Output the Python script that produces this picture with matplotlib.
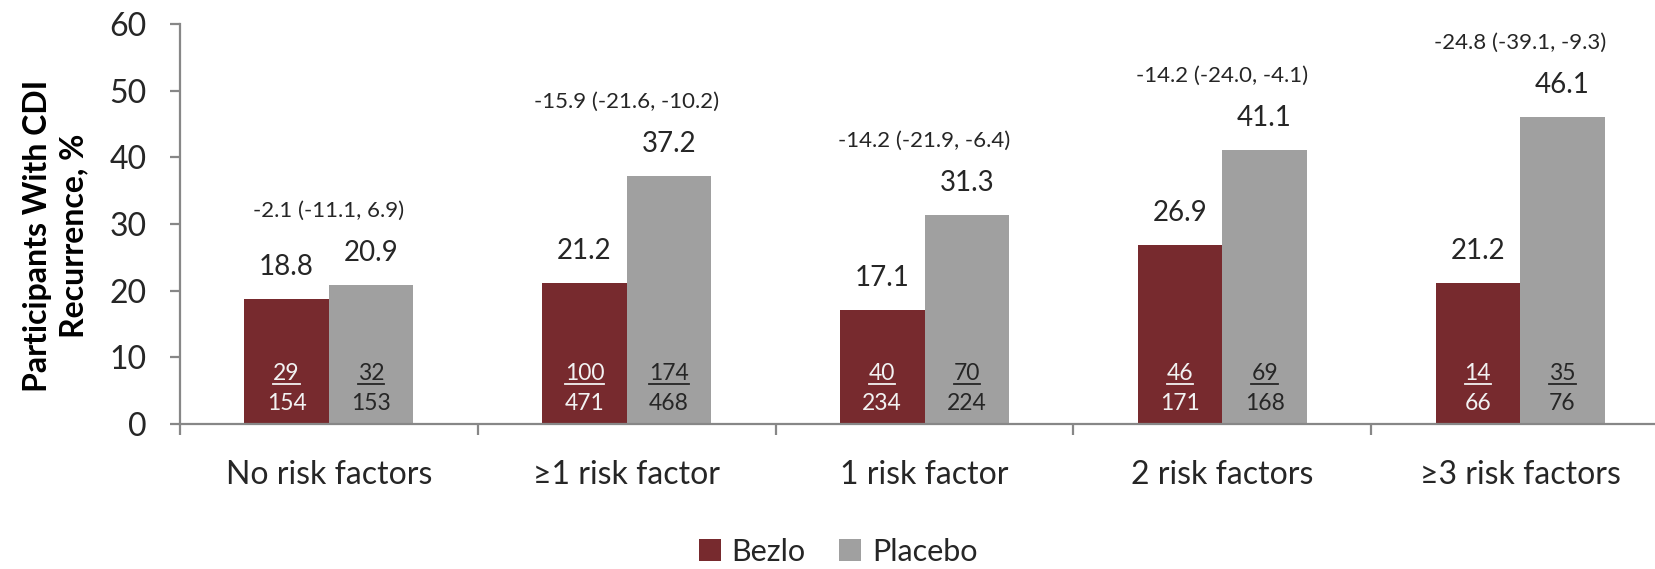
import matplotlib
matplotlib.use("Agg")
import matplotlib.pyplot as plt
import numpy as np
from matplotlib.lines import Line2D

categories = ["No risk factors", "\u22651 risk factor", "1 risk factor", "2 risk factors", "\u22653 risk factors"]
bezlo = [18.8, 21.2, 17.1, 26.9, 21.2]
placebo = [20.9, 37.2, 31.3, 41.1, 46.1]
bezlo_n = ["29", "100", "40", "46", "14"]
bezlo_N = ["154", "471", "234", "171", "66"]
placebo_n = ["32", "174", "70", "69", "35"]
placebo_N = ["153", "468", "224", "168", "76"]
diffs = ["-2.1 (-11.1, 6.9)", "-15.9 (-21.6, -10.2)", "-14.2 (-21.9, -6.4)",
         "-14.2 (-24.0, -4.1)", "-24.8 (-39.1, -9.3)"]
yticks = [0, 10, 20, 30, 40, 50, 60]

plt.rcParams['font.family'] = ['Lato', 'DejaVu Sans']
TXT = '#262626'
C_BEZ = '#772A2E'
C_PLA = '#A0A0A0'
AX = '#878787'

fig = plt.figure(figsize=(16.55, 5.69), dpi=100)
ax = fig.add_axes([180/1655, 1-424/569, 1489/1655, 400/569])

x = np.arange(len(categories))
w = 0.284
b1 = ax.bar(x - w/2, bezlo, w, color=C_BEZ, label='Bezlo')
b2 = ax.bar(x + w/2, placebo, w, color=C_PLA, label='Placebo')

ax.set_xlim(-0.5, len(categories) - 0.5)
ax.set_ylim(0, 60)
ax.set_yticks(yticks)
ax.set_yticklabels([str(t) for t in yticks])
for s in ['top', 'right']:
    ax.spines[s].set_visible(False)
for s in ['left', 'bottom']:
    ax.spines[s].set_color(AX)
    ax.spines[s].set_linewidth(1.6)
ax.tick_params(axis='y', length=7.2, width=1.6, color=AX, labelsize=23, labelcolor=TXT, pad=17)
ax.set_xticks(np.arange(len(categories) + 1) - 0.5)
ax.set_xticklabels([])
ax.tick_params(axis='x', which='major', length=8, width=1.6, color=AX)

# category labels (baseline placed below the axis)
for xi, c in zip(x, categories):
    ax.annotate(c, (xi, 0), xycoords=('data', 'axes fraction'), xytext=(0, -60),
                textcoords='offset pixels', ha='center', va='baseline',
                fontsize=23, color=TXT, annotation_clip=False)

# value labels
for xi, v in zip(x - w/2, bezlo):
    ax.annotate(f"{v:.1f}", (xi, v), xytext=(0, 24), textcoords='offset pixels',
                ha='center', va='baseline', fontsize=20, color=TXT)
for xi, v in zip(x + w/2, placebo):
    ax.annotate(f"{v:.1f}", (xi, v), xytext=(0, 24), textcoords='offset pixels',
                ha='center', va='baseline', fontsize=20, color=TXT)

# difference annotations
for xi, v1, v2, d in zip(x, bezlo, placebo, diffs):
    ax.annotate(d, (xi, max(v1, v2)), xytext=(0, 68), textcoords='offset pixels',
                ha='center', va='baseline', fontsize=16, color=TXT)

# fraction labels
nums = []
for xs, ns, Ns, col in [(x - w/2, bezlo_n, bezlo_N, '#F2F2F2'), (x + w/2, placebo_n, placebo_N, TXT)]:
    for xi, n, N in zip(xs, ns, Ns):
        t = ax.annotate(n, (xi, 0), xytext=(0, 44.5), textcoords='offset pixels',
                        ha='center', va='baseline', fontsize=16.5, color=col)
        ax.annotate(N, (xi, 0), xytext=(0, 13.5), textcoords='offset pixels',
                    ha='center', va='baseline', fontsize=16.5, color=col)
        nums.append((t, col, xi))

fig.text(56/1655, 1-236/569, "Participants With CDI\nRecurrence, %", rotation=90,
         ha='center', va='center', multialignment='center', fontsize=23,
         fontweight='bold', color='black', linespacing=1.3)

fig.legend(handles=[b1, b2], labels=['Bezlo', 'Placebo'], loc='center',
           bbox_to_anchor=(838/1655, 1-552/569), ncol=2, frameon=False,
           fontsize=22, handlelength=0.72, handleheight=0.72,
           handletextpad=0.35, columnspacing=1.1, labelcolor=TXT)

# underline numerators
fig.canvas.draw()
r = fig.canvas.get_renderer()
y0_disp = ax.transData.transform((0, 0))[1]
for t, col, xi in nums:
    bb = t.get_window_extent(r)
    yline = y0_disp + 44.5 - 4
    fig.add_artist(Line2D([bb.x0, bb.x1], [yline, yline], transform=None,
                          color=col, linewidth=1.3))

fig.savefig("out.png", dpi=100)
